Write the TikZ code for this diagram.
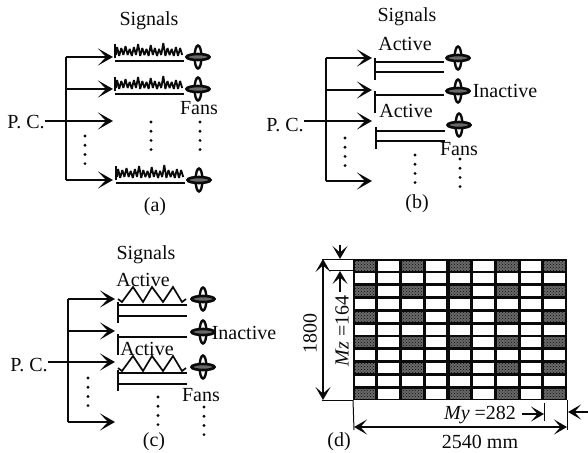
\documentclass[tikz,border=0pt]{standalone}
\usepackage{fontspec}
\setmainfont{Liberation Serif}
\usetikzlibrary{arrows.meta,patterns}
\definecolor{InkClr}{RGB}{10,10,10}
\definecolor{HatchClr}{RGB}{105,105,105}
\tikzset{
  lbl/.style={inner sep=0pt,text=InkClr,font=\fontsize{20}{21}\selectfont},
  wire/.style={line width=2.2pt,color=InkClr},
  thinwire/.style={line width=1.5pt,color=InkClr},
  feed/.style={wire,-{Stealth[length=15pt,width=17pt,inset=8pt]}},
  dimline/.style={line width=1pt,color=InkClr},
  dimarrow/.style={line width=1.3pt,color=InkClr,-{Stealth[length=13pt,width=15pt,inset=6.5pt]}},
  dimboth/.style={line width=1.3pt,color=InkClr,{Stealth[length=13pt,width=15pt,inset=6.5pt]}-{Stealth[length=13pt,width=15pt,inset=6.5pt]}},
  fan/.pic={
    \draw[line width=2.4pt,color=InkClr,fill=white] (0,0) ellipse (3.4 and 11.5);
    \draw[line width=2.6pt,color=InkClr,fill=HatchClr] (0,0) ellipse (11.5 and 3);
  },
  dotcol/.pic={
    \foreach \k in {0,...,3} \fill[InkClr] (0,9.2*\k) circle (1.6);
  },
  noisy/.pic={
    \draw[line width=1.8pt,color=InkClr,line join=bevel] (1,-6)
      \foreach \h [count=\i] in {14,5,13,6,15,6,12,5,14,6,17,5,13,6,12,5,16,6,13,5,12,6,18,5,13,6,12,5,14,5,13,6}
      { -- (2.1*\i,-\h) };
  },
  wavy/.pic={
    \draw[line width=1.7pt,color=InkClr] (0,-3) -- (4,0) -- (15,-15) -- (25,0) -- (34,-15) -- (45,0) -- (55,-15) -- (64,0) -- (68,-3);
  }
}
\begin{document}
\begin{tikzpicture}[x=1pt,y=-1pt]
\useasboundingbox (0,0) rectangle (588,452);

\node[lbl] (sigA) at (149,21) {Signals};
\node[lbl] (pcA) at (26,122) {P. C.};
\node[lbl] (fansA) at (199,108) {Fans};
\node[lbl] (capA) at (155,207) {(a)};
\foreach \y [count=\i] in {57,89,121,180}{
  \coordinate (aT\i) at (66,\y);
  \coordinate (aH\i) at (113,\y);
  \draw[feed] (aT\i) -- (aH\i);
}
\draw[wire] (aT1) -- (aT4);
\draw[wire] (pcA.east |- aT3) -- (aT3);
\foreach \x/\y/\fy [count=\i] in {115/61/57,115/94/89,116/183/180}{
  \coordinate (aB\i) at (\x,\y);
  \coordinate (aE\i) at (\x+69,\y);
  \coordinate (aK\i) at (\x,\y-17);
  \draw[thinwire] (aB\i) -- (aE\i);
  \draw[wire] ([yshift=3pt]aB\i) -- (aK\i);
  \pic at (aB\i) {noisy};
  \pic at (\x+83,\fy) {fan};
}
\pic at (85,136) {dotcol};
\pic at (151,122) {dotcol};
\pic at (200,122) {dotcol};

\node[lbl] (sigB) at (407,17) {Signals};
\node[lbl] (pcB) at (285,125) {P. C.};
\node[lbl] (fansB) at (459,149) {Fans};
\node[lbl] (capB) at (417,204) {(b)};
\node[lbl] (actB) at (405,44) {Active};
\node[lbl] (actBB) at (406,111) {Active};
\node[lbl] (inactB) at (505,91) {Inactive};
\foreach \y [count=\i] in {58,90,121,181}{
  \coordinate (bT\i) at (326,\y);
  \coordinate (bH\i) at (372,\y);
  \draw[feed] (bT\i) -- (bH\i);
}
\draw[wire] (bT1) -- (bT4);
\draw[wire] (pcB.east |- bT3) -- (bT3);
\foreach \x/\y/\fy [count=\i] in {375/62/58,375/95/91,376/131/125}{
  \coordinate (bB\i) at (\x,\y);
  \coordinate (bE\i) at (\x+69,\y);
  \draw[thinwire] (bB\i) -- (bE\i);
  \draw[wire] ([yshift=4pt]bB\i) -- ([yshift=-18pt]bB\i);
  \pic at (\x+83,\fy) {fan};
}
\draw[thinwire] ([yshift=-10pt]bB1) -- ([yshift=-10pt]bE1);
\draw[thinwire] ([yshift=-10pt]bB3) -- ([yshift=-10pt]bE3);
\pic at (345,138) {dotcol};
\pic at (415,155) {dotcol};
\pic at (460,159) {dotcol};

\node[lbl] (sigC) at (146,255) {Signals};
\node[lbl] (pcC) at (29,365) {P. C.};
\node[lbl] (fansC) at (201,395) {Fans};
\node[lbl] (capC) at (154,442) {(c)};
\node[lbl] (actC) at (143,280) {Active};
\node[lbl] (actCC) at (147,349) {Active};
\node[lbl] (inactC) at (244,333) {Inactive};
\foreach \y [count=\i] in {299,331,362,422}{
  \coordinate (cT\i) at (68,\y);
  \coordinate (cH\i) at (115,\y);
  \draw[feed] (cT\i) -- (cH\i);
}
\draw[wire] (cT1) -- (cT4);
\draw[wire] (pcC.east |- cT3) -- (cT3);
\foreach \x/\y/\fy [count=\i] in {118/305/299,118/337/332,118/373/367}{
  \coordinate (cB\i) at (\x,\y);
  \coordinate (cE\i) at (\x+69,\y);
  \draw[thinwire] (cB\i) -- (cE\i);
  \draw[wire] ([yshift=3pt]cB\i) -- ([yshift=-18pt]cB\i);
  \pic at (\x+85,\fy) {fan};
}
\draw[thinwire] ([yshift=-11pt]cB1) -- ([yshift=-11pt]cE1);
\draw[thinwire] ([yshift=-11pt]cB3) -- ([yshift=-11pt]cE3);
\pic at (118,302) {wavy};
\pic at (118,371) {wavy};
\pic at (88,378) {dotcol};
\pic at (158,397) {dotcol};
\pic at (204,407) {dotcol};

\fill[InkClr] (353,259) rectangle (567,400);
\foreach \r in {0,...,10}
  \foreach \c in {0,...,8}
    \fill[white] (354.7+23.72*\c,260.5+12.8*\r) rectangle ++(20.5,10);
\foreach \r in {0,2,...,10}
  \foreach \c in {0,2,...,8}{
    \fill[HatchClr] (354.7+23.72*\c,260.5+12.8*\r) rectangle ++(20.5,10);
    \fill[pattern=crosshatch dots,pattern color=InkClr] (354.7+23.72*\c,260.5+12.8*\r) rectangle ++(20.5,10);
  }

\coordinate (gridTL) at (353,259);
\coordinate (gridBL) at (353,400);
\coordinate (gridBR) at (567,400);
\coordinate (tickTL) at (322,259);
\coordinate (tickBL) at (322,400);
\coordinate (tickMz) at (329,270);
\coordinate (rowMz) at (353,270);
\coordinate (dimTop) at (323,259);
\coordinate (dimBot) at (323,400);
\coordinate (inMzA) at (340,245);
\coordinate (inMzB) at (340,259);
\coordinate (inMzC) at (340,292);
\coordinate (inMzD) at (340,271);
\coordinate (tickL) at (354,430);
\coordinate (tickR) at (567,430);
\coordinate (tickMyA) at (544,403);
\coordinate (tickMyB) at (544,421);
\coordinate (dimL) at (354,427);
\coordinate (dimR) at (567,427);
\coordinate (inMyA) at (522,414);
\coordinate (inMyB) at (544,414);
\coordinate (inMyC) at (588,412);
\coordinate (inMyD) at (568,412);

\draw[dimline] (tickTL) -- (gridTL);
\draw[dimline] (tickBL) -- (gridBL);
\draw[dimline] (tickMz) -- (rowMz);
\draw[dimline] (gridBL) -- (tickL);
\draw[dimline] (gridBR) -- (tickR);
\draw[dimline] (tickMyA) -- (tickMyB);
\draw[dimboth] (dimTop) -- (dimBot);
\draw[dimboth] (dimL) -- (dimR);
\draw[dimarrow] (inMzA) -- (inMzB);
\draw[dimarrow] (inMzC) -- (inMzD);
\draw[dimarrow] (inMyA) -- (inMyB);
\draw[dimarrow] (inMyC) -- (inMyD);

\node[lbl,rotate=90] (dimH) at (310,333) {1800};
\node[lbl,rotate=90] (dimMz) at (342,331) {\textit{Mz} =164};
\node[lbl] (dimMy) at (480,415) {\textit{My} =282};
\node[lbl] (dimW) at (480,442) {2540 mm};
\node[lbl] (capD) at (339,442) {(d)};
\end{tikzpicture}
\end{document}
